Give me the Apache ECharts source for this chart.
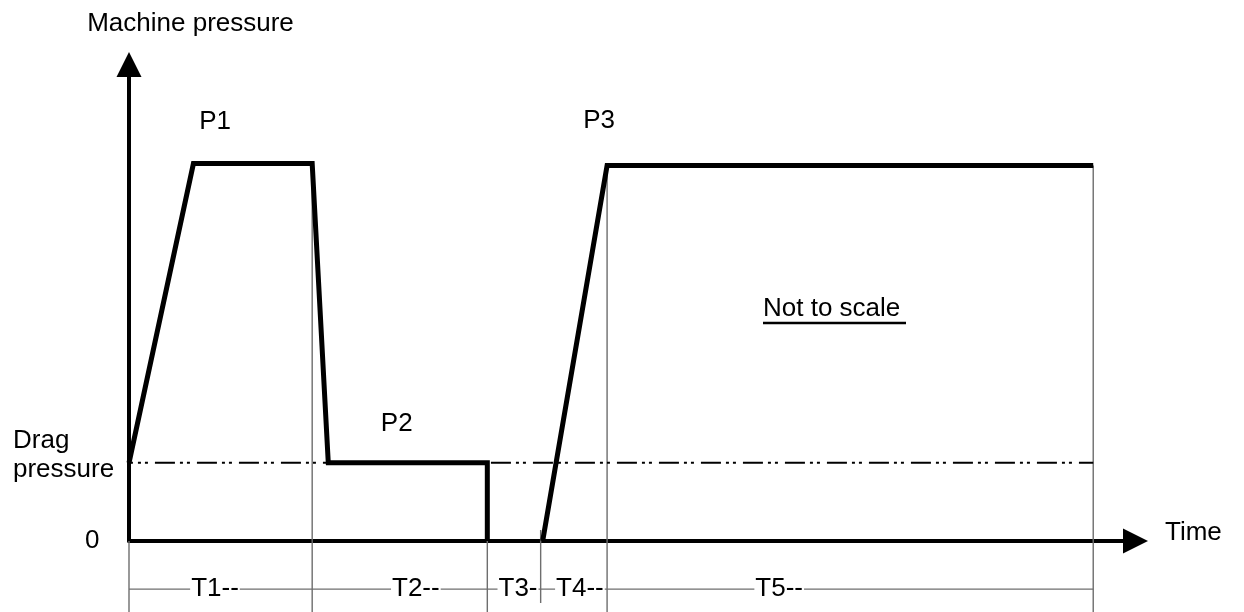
<!DOCTYPE html>
<html>
<head>
<meta charset="utf-8">
<script src="https://cdn.jsdelivr.net/npm/echarts@6/dist/echarts.min.js"></script>
<style>
  html, body { margin: 0; padding: 0; background: #fff; }
  #chart { width: 1244px; height: 612px; }
</style>
</head>
<body>
<div id="chart"></div>
<script>
// ---- Data (schematic units: time 0..100, pressure 0..100) ----
const timePoints     = [0, 6.4, 18.2, 19.8, 35.6, 35.6, null, 41.1, 47.5, 95.8];
const pressureValues = [16.4, 79.2, 79.2, 16.4, 16.4, 0, null, 0, 78.8, 78.8];
const dragPressure = 16.4;
const dragLineSpan = [-1, 95.8];

const phaseNames   = ['T1--', 'T2--', 'T3-', 'T4--', 'T5--'];
const phaseLabelX  = [8.54, 28.5, 38.65, 44.8, 64.6];
const phaseRowY    = -10.1;
const phaseBounds  = [0, 18.2, 35.6, 40.9, 47.5, 95.8];
const boundTop     = [0, 79.2, 16.4, 2.3, 78.8, 78.8];
const boundBottom  = [-15, -15, -15, -13, -15, -15];

const peakNames = ['P1', 'P2', 'P3'];
const peakLabelX = [8.56, 26.6, 46.7];
const peakLabelY = [87.9, 24.6, 88.1];

const yTickLabels = {zero: '0', drag: ['Drag', 'pressure']};

// ---- Build series data ----
const curveData = timePoints.map((t, i) => t === null ? '-' : [t, pressureValues[i]]);
const boundData = [];
phaseBounds.forEach((x, i) => {
  boundData.push([x, boundTop[i]], [x, boundBottom[i]], '-');
});
const phaseLabelData = phaseNames.map((n, i) => [phaseLabelX[i], phaseRowY, n]);
const peakLabelData = peakNames.map((n, i) => [peakLabelX[i], peakLabelY[i], n]);

const FONT = '"Liberation Sans", Arial, sans-serif';
const chart = echarts.init(document.getElementById('chart'), null, {renderer: 'canvas'});

chart.setOption({
  animation: false,
  backgroundColor: '#fff',
  grid: {left: 129, right: 108.5, top: 64.5, bottom: 71, containLabel: false, outerBoundsMode: 'none'},
  xAxis: {
    type: 'value', min: 0, max: 100,
    name: 'Time', nameLocation: 'end', nameGap: 29.5,
    nameTextStyle: {color: '#000', fontSize: 26, fontFamily: FONT, verticalAlign: 'bottom', lineHeight: 16},
    axisLine: {onZero: true, symbol: ['none', 'triangle'], symbolSize: [25, 25],
      lineStyle: {color: '#000', width: 4}},
    axisTick: {show: false}, axisLabel: {show: false}, splitLine: {show: false}
  },
  yAxis: {
    type: 'value', min: 0, max: 100, interval: dragPressure,
    name: 'Machine pressure', nameLocation: 'end', nameGap: 27.5,
    nameTextStyle: {color: '#000', fontSize: 26, fontFamily: FONT, align: 'center', padding: [0, 0, 0, 123]},
    axisLine: {symbol: ['none', 'triangle'], symbolSize: [25, 25],
      lineStyle: {color: '#000', width: 4}},
    axisTick: {show: false}, splitLine: {show: false},
    axisLabel: {
      show: true, margin: 16, color: '#000', fontSize: 26, fontFamily: FONT,
      formatter: function (v) {
        if (Math.abs(v) < 1e-6) return '{z|' + yTickLabels.zero + '}';
        if (Math.abs(v - dragPressure) < 1e-6)
          return '{d|' + yTickLabels.drag[0] + '}\n{d|' + yTickLabels.drag[1] + '}\n{g| }';
        return '';
      },
      rich: {
        z: {fontSize: 26, fontFamily: FONT, color: '#000', padding: [0, 13.5, 0, 0]},
        d: {fontSize: 26, fontFamily: FONT, color: '#000', width: 100, align: 'left', lineHeight: 29},
        g: {fontSize: 10, lineHeight: 16, height: 16}
      }
    }
  },
  graphic: [
    {type: 'text', z: 10, style: {x: 763, y: 309, text: 'Not to scale', fill: '#000',
      font: '26px ' + FONT, textVerticalAlign: 'middle', textAlign: 'left'}},
    {type: 'line', z: 10, shape: {x1: 763, y1: 323, x2: 906, y2: 323},
      style: {stroke: '#000', lineWidth: 2.5}}
  ],
  series: [
    {
      name: 'Phase boundaries', type: 'line', data: boundData, clip: false,
      symbol: 'none', connectNulls: false, z: 1,
      lineStyle: {color: '#6e6e6e', width: 1.4}
    },
    {
      name: 'Phase row', type: 'line', data: [[phaseBounds[0], phaseRowY], [phaseBounds[5], phaseRowY]],
      clip: false, symbol: 'none', z: 1,
      lineStyle: {color: '#6e6e6e', width: 1.4}
    },
    {
      name: 'Drag pressure', type: 'line', clip: false, symbol: 'none', z: 2,
      data: dragLineSpan.map(x => [x, dragPressure]),
      lineStyle: {color: '#000', width: 2, type: [20, 5, 3, 4, 3, 7], dashOffset: 6}
    },
    {
      name: 'Machine pressure', type: 'line', data: curveData, clip: false,
      symbol: 'none', connectNulls: false, z: 3,
      lineStyle: {color: '#000', width: 5, cap: 'butt', join: 'miter'}
    },
    {
      name: 'Phase labels', type: 'scatter', data: phaseLabelData, clip: false,
      symbolSize: 0, z: 5, itemStyle: {opacity: 1},
      label: {show: true, position: 'inside', formatter: p => p.data[2], color: '#000', opacity: 1,
        fontSize: 26, fontFamily: FONT, backgroundColor: '#fff', padding: [0, 1]}
    },
    {
      name: 'Peak labels', type: 'scatter', data: peakLabelData, clip: false,
      symbolSize: 0, z: 5, itemStyle: {opacity: 1},
      label: {show: true, position: 'inside', formatter: p => p.data[2], color: '#000', opacity: 1,
        fontSize: 26, fontFamily: FONT}
    }
  ]
});
</script>
</body>
</html>
